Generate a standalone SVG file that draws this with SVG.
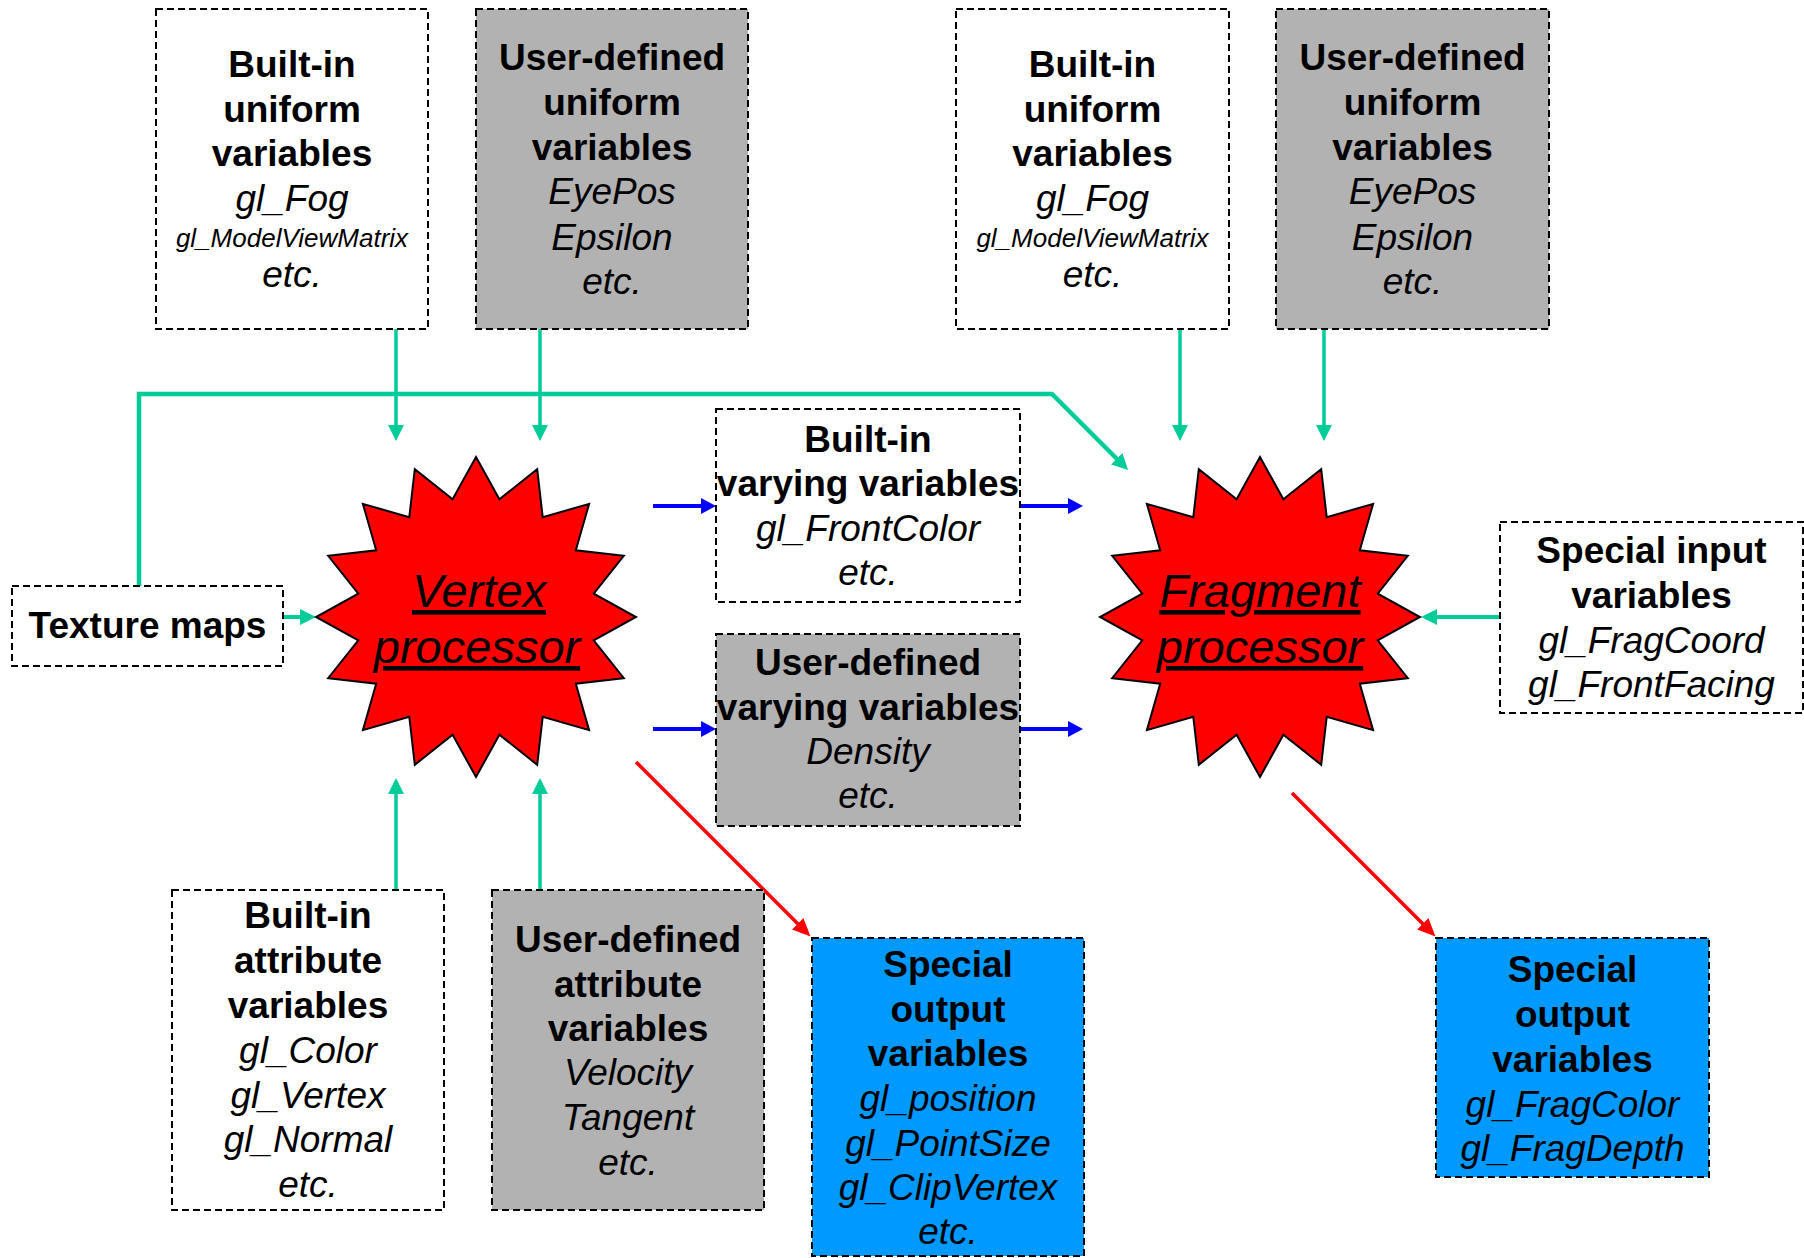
<svg xmlns="http://www.w3.org/2000/svg" width="1804" height="1258" viewBox="0 0 1804 1258">
<style>
.box{stroke:#000;stroke-width:2;stroke-dasharray:7 4}
.w{fill:#fff}.g{fill:#b2b2b2}.b{fill:#0099ff}
.t{font-family:"Liberation Sans",Arial,sans-serif;text-anchor:middle;fill:#000}
.hb{font-weight:bold;font-size:37px}
.it{font-style:italic;font-size:37px}
.sm{font-style:italic;font-size:26px}
.proc{font-style:italic;font-size:47px;text-decoration:underline}
.star{fill:#ff0000;stroke:#000;stroke-width:2}
.gr{stroke:#00cc99;fill:none}
.bl{stroke:#0000ff;stroke-width:4;fill:none}
.rd{stroke:#ff0000;stroke-width:3.5;fill:none}
</style>
<defs>
<path id="starShape" d="M0,-160 L23.4,-117.7 L61.2,-147.8 L66.7,-99.8 L113.1,-113.1 L99.8,-66.7 L147.8,-61.2 L117.7,-23.4 L160,0 L117.7,23.4 L147.8,61.2 L99.8,66.7 L113.1,113.1 L66.7,99.8 L61.2,147.8 L23.4,117.7 L0,160 L-23.4,117.7 L-61.2,147.8 L-66.7,99.8 L-113.1,113.1 L-99.8,66.7 L-147.8,61.2 L-117.7,23.4 L-160,0 L-117.7,-23.4 L-147.8,-61.2 L-99.8,-66.7 L-113.1,-113.1 L-66.7,-99.8 L-61.2,-147.8 L-23.4,-117.7 Z"/>
<marker id="ag" markerUnits="userSpaceOnUse" markerWidth="16" markerHeight="16" refX="6" refY="8" orient="auto"><path d="M0,0 L16,8 L0,16 Z" fill="#00cc99"/></marker>
<marker id="ab" markerUnits="userSpaceOnUse" markerWidth="15" markerHeight="16" refX="5" refY="8" orient="auto"><path d="M0,0 L15,8 L0,16 Z" fill="#0000ff"/></marker>
<marker id="ar" markerUnits="userSpaceOnUse" markerWidth="18" markerHeight="16" refX="6" refY="8" orient="auto"><path d="M0,0 L18,8 L0,16 Z" fill="#ff0000"/></marker>
</defs>

<g id="connectors">
<path class="gr" stroke-width="4.5" d="M139,586 L139,394 L1052,394 L1121,463" marker-end="url(#ag)"/>
<line class="gr" stroke-width="3.5" x1="396" y1="329" x2="396" y2="431" marker-end="url(#ag)"/>
<line class="gr" stroke-width="3.5" x1="540" y1="329" x2="540" y2="431" marker-end="url(#ag)"/>
<line class="gr" stroke-width="3.5" x1="1180" y1="329" x2="1180" y2="431" marker-end="url(#ag)"/>
<line class="gr" stroke-width="3.5" x1="1324" y1="329" x2="1324" y2="431" marker-end="url(#ag)"/>
<line class="gr" stroke-width="4" x1="283" y1="617" x2="306" y2="617" marker-end="url(#ag)"/>
<line class="gr" stroke-width="4" x1="1500" y1="617" x2="1431" y2="617" marker-end="url(#ag)"/>
<line class="gr" stroke-width="3.5" x1="396" y1="890" x2="396" y2="788" marker-end="url(#ag)"/>
<line class="gr" stroke-width="3.5" x1="540" y1="890" x2="540" y2="788" marker-end="url(#ag)"/>
<line class="bl" x1="653" y1="506" x2="706" y2="506" marker-end="url(#ab)"/>
<line class="bl" x1="1020" y1="506" x2="1073" y2="506" marker-end="url(#ab)"/>
<line class="bl" x1="653" y1="729" x2="706" y2="729" marker-end="url(#ab)"/>
<line class="bl" x1="1020" y1="729" x2="1073" y2="729" marker-end="url(#ab)"/>
<line class="rd" x1="636" y1="762" x2="802" y2="928" marker-end="url(#ar)"/>
<line class="rd" x1="1292" y1="793" x2="1427" y2="928" marker-end="url(#ar)"/>
</g>

<g id="builtin-uniform-v">
<rect class="box w" x="156" y="9" width="272" height="320"/>
<text class="t hb" x="292" y="77">Built-in</text>
<text class="t hb" x="292" y="122">uniform</text>
<text class="t hb" x="292" y="166">variables</text>
<text class="t it" x="292" y="211">gl_Fog</text>
<text class="t sm" x="292" y="247">gl_ModelViewMatrix</text>
<text class="t it" x="292" y="287">etc.</text>
</g>

<g id="user-uniform-v">
<rect class="box g" x="476" y="9" width="272" height="320"/>
<text class="t hb" x="612" y="70">User-defined</text>
<text class="t hb" x="612" y="115">uniform</text>
<text class="t hb" x="612" y="160">variables</text>
<text class="t it" x="612" y="204">EyePos</text>
<text class="t it" x="612" y="250">Epsilon</text>
<text class="t it" x="612" y="294">etc.</text>
</g>

<g id="builtin-uniform-f">
<rect class="box w" x="956" y="9" width="273" height="320"/>
<text class="t hb" x="1092.5" y="77">Built-in</text>
<text class="t hb" x="1092.5" y="122">uniform</text>
<text class="t hb" x="1092.5" y="166">variables</text>
<text class="t it" x="1092.5" y="211">gl_Fog</text>
<text class="t sm" x="1092.5" y="247">gl_ModelViewMatrix</text>
<text class="t it" x="1092.5" y="287">etc.</text>
</g>

<g id="user-uniform-f">
<rect class="box g" x="1276" y="9" width="273" height="320"/>
<text class="t hb" x="1412.5" y="70">User-defined</text>
<text class="t hb" x="1412.5" y="115">uniform</text>
<text class="t hb" x="1412.5" y="160">variables</text>
<text class="t it" x="1412.5" y="204">EyePos</text>
<text class="t it" x="1412.5" y="250">Epsilon</text>
<text class="t it" x="1412.5" y="294">etc.</text>
</g>

<g id="texture-maps">
<rect class="box w" x="12" y="586" width="271" height="80"/>
<text class="t hb" x="147.5" y="638">Texture maps</text>
</g>

<g id="vertex-processor">
<use href="#starShape" class="star" transform="translate(476,617)"/>
<text class="t proc" x="479" y="607">Vertex</text>
<text class="t proc" x="477" y="663">processor</text>
</g>

<g id="fragment-processor">
<use href="#starShape" class="star" transform="translate(1260,617)"/>
<text class="t proc" x="1260" y="607">Fragment</text>
<text class="t proc" x="1260" y="663">processor</text>
</g>

<g id="builtin-varying">
<rect class="box w" x="716" y="409" width="304" height="193"/>
<text class="t hb" x="868" y="452">Built-in</text>
<text class="t hb" x="868" y="496">varying variables</text>
<text class="t it" x="868" y="541">gl_FrontColor</text>
<text class="t it" x="868" y="585">etc.</text>
</g>

<g id="user-varying">
<rect class="box g" x="716" y="634" width="304" height="192"/>
<text class="t hb" x="868" y="675">User-defined</text>
<text class="t hb" x="868" y="720">varying variables</text>
<text class="t it" x="868" y="764">Density</text>
<text class="t it" x="868" y="808">etc.</text>
</g>

<g id="special-input">
<rect class="box w" x="1500" y="522" width="303" height="191"/>
<text class="t hb" x="1651.5" y="563">Special input</text>
<text class="t hb" x="1651.5" y="608">variables</text>
<text class="t it" x="1651.5" y="653">gl_FragCoord</text>
<text class="t it" x="1651.5" y="697">gl_FrontFacing</text>
</g>

<g id="builtin-attribute">
<rect class="box w" x="172" y="890" width="272" height="320"/>
<text class="t hb" x="308" y="928">Built-in</text>
<text class="t hb" x="308" y="973">attribute</text>
<text class="t hb" x="308" y="1018">variables</text>
<text class="t it" x="308" y="1063">gl_Color</text>
<text class="t it" x="308" y="1108">gl_Vertex</text>
<text class="t it" x="308" y="1152">gl_Normal</text>
<text class="t it" x="308" y="1197">etc.</text>
</g>

<g id="user-attribute">
<rect class="box g" x="492" y="890" width="272" height="320"/>
<text class="t hb" x="628" y="952">User-defined</text>
<text class="t hb" x="628" y="997">attribute</text>
<text class="t hb" x="628" y="1041">variables</text>
<text class="t it" x="628" y="1085">Velocity</text>
<text class="t it" x="628" y="1130">Tangent</text>
<text class="t it" x="628" y="1175">etc.</text>
</g>

<g id="special-output-v">
<rect class="box b" x="812" y="938" width="272" height="318"/>
<text class="t hb" x="948" y="977">Special</text>
<text class="t hb" x="948" y="1022">output</text>
<text class="t hb" x="948" y="1066">variables</text>
<text class="t it" x="948" y="1111">gl_position</text>
<text class="t it" x="948" y="1156">gl_PointSize</text>
<text class="t it" x="948" y="1200">gl_ClipVertex</text>
<text class="t it" x="948" y="1244">etc.</text>
</g>

<g id="special-output-f">
<rect class="box b" x="1436" y="938" width="273" height="239"/>
<text class="t hb" x="1572.5" y="982">Special</text>
<text class="t hb" x="1572.5" y="1027">output</text>
<text class="t hb" x="1572.5" y="1072">variables</text>
<text class="t it" x="1572.5" y="1117">gl_FragColor</text>
<text class="t it" x="1572.5" y="1161">gl_FragDepth</text>
</g>
</svg>
